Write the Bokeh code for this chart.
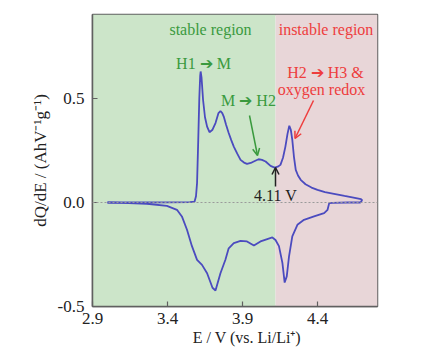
from bokeh.plotting import figure
from bokeh.models import Range1d, BoxAnnotation, Label, Arrow, OpenHead, Span, FixedTicker
from bokeh.embed import file_html
from bokeh.resources import INLINE

# ---------------- data ----------------
charge_E = [3.00, 3.20, 3.40, 3.55, 3.58, 3.59, 3.597, 3.605, 3.612, 3.618, 3.621, 3.627,
            3.637, 3.650, 3.664, 3.680, 3.700, 3.720, 3.740, 3.753, 3.765, 3.775, 3.790,
            3.808, 3.825, 3.842, 3.865, 3.887, 3.910, 3.930, 3.955, 3.975, 4.007, 4.030,
            4.054, 4.087, 4.114, 4.135, 4.153, 4.170, 4.186, 4.200, 4.212, 4.222, 4.232,
            4.243, 4.255, 4.270, 4.288, 4.320, 4.360, 4.400, 4.450, 4.510, 4.580, 4.640,
            4.690, 4.697, 4.688]
charge_dQ = [0.0, 0.0, 0.001, 0.002, 0.004, 0.03, 0.093, 0.30, 0.50, 0.61, 0.63, 0.60,
             0.494, 0.41, 0.365, 0.338, 0.35, 0.382, 0.43, 0.44, 0.43, 0.413, 0.375,
             0.334, 0.30, 0.269, 0.235, 0.205, 0.192, 0.186, 0.19, 0.197, 0.208, 0.205,
             0.197, 0.176, 0.168, 0.172, 0.181, 0.215, 0.269, 0.33, 0.369, 0.35, 0.301,
             0.22, 0.157, 0.13, 0.109, 0.088, 0.072, 0.061, 0.05, 0.042, 0.032, 0.024,
             0.016, 0.012, 0.0]

discharge_E = [4.688, 4.60, 4.50, 4.478, 4.467, 4.444, 4.377, 4.310, 4.266, 4.232, 4.210,
               4.195, 4.181, 4.166, 4.143, 4.120, 4.099, 4.065, 4.020, 3.976, 3.930,
               3.887, 3.842, 3.808, 3.786, 3.753, 3.720, 3.700, 3.664, 3.630, 3.597,
               3.563, 3.530, 3.496, 3.463, 3.396, 3.262, 3.100, 3.000]
discharge_dQ = [0.0, 0.0, -0.002, -0.003, -0.035, -0.051, -0.067, -0.083, -0.107, -0.163,
                -0.26, -0.355, -0.385, -0.29, -0.21, -0.18, -0.168, -0.176, -0.187,
                -0.207, -0.187, -0.184, -0.195, -0.22, -0.275, -0.34, -0.423, -0.41,
                -0.34, -0.30, -0.276, -0.21, -0.131, -0.067, -0.035, -0.016, -0.006,
                -0.002, 0.0]

x_ticks = [2.9, 3.4, 3.9, 4.4]
x_tick_labels = ["2.9", "3.4", "3.9", "4.4"]
y_ticks = [-0.5, 0.0, 0.5]
y_tick_labels = ["-0.5", "0.0", "0.5"]
boundary_E = 4.12
y_title = "dQ/dE / (AhV\u207b\u00b9g\u207b\u00b9)"
x_title = "E / V (vs. Li/Li\u207a)"

# ---------------- figure ----------------
FONT = "Liberation Serif"
TOTAL_W, TOTAL_H = 429, 356
FL, FR, FT, FB = 92, 377, 14, 306   # frame in canvas pixels

X0, X1 = 2.9, 4.8
Y0, Y1 = -0.5, 0.904
p = figure(width=TOTAL_W, height=TOTAL_H, output_backend="svg", toolbar_location=None,
           x_range=Range1d(X0, X1), y_range=Range1d(Y0, Y1),
           min_border_left=FL, min_border_right=TOTAL_W - FR,
           min_border_top=FT, min_border_bottom=TOTAL_H - FB)
p.background_fill_color = "white"
p.border_fill_color = "white"
p.grid.visible = False
p.outline_line_color = "#606060"
p.outline_line_width = 1.5

def dx(px):
    return X0 + (px - FL) * (X1 - X0) / (FR - FL)
def dy(py):
    return Y0 + (FB - py) * (Y1 - Y0) / (FB - FT)

p.add_layout(BoxAnnotation(left=X0, right=boundary_E, fill_color="#cce5c9", fill_alpha=1.0,
                           line_alpha=0, level="underlay"))
p.add_layout(BoxAnnotation(left=boundary_E, right=X1, fill_color="#e8d6d8", fill_alpha=1.0,
                           line_alpha=0, level="underlay"))
p.add_layout(Span(location=0, dimension="width", line_color="#9a9a9a", line_width=1,
                  line_dash="2 2"))

for ax in (p.xaxis[0], p.yaxis[0]):
    ax.axis_line_color = "#606060"
    ax.axis_line_width = 1.5
    ax.major_tick_in = 5
    ax.major_tick_out = 0
    ax.minor_tick_line_color = None
    ax.major_tick_line_color = "#606060"
    ax.major_tick_line_width = 1.2
    ax.major_label_text_font = FONT
    ax.major_label_text_font_size = "17px"
    ax.major_label_text_color = "#222222"
    ax.axis_label_text_font = FONT
    ax.axis_label_text_font_style = "normal"
    ax.axis_label_text_color = "#222222"
p.yaxis.major_label_standoff = 8
p.xaxis.major_label_standoff = 6
p.yaxis.axis_label = y_title
p.yaxis.axis_label_text_font_size = "17px"
p.yaxis.axis_label_standoff = 5
# leading non-breaking spaces nudge the centred x title to the right, as in the original
p.xaxis.axis_label = "\u00a0" * 6 + x_title
p.xaxis.axis_label_text_font_size = "16px"
p.xaxis.axis_label_standoff = 2
p.xaxis.ticker = FixedTicker(ticks=x_ticks)
p.yaxis.ticker = FixedTicker(ticks=y_ticks)
p.xaxis.major_label_overrides = {t: s for t, s in zip(x_ticks, x_tick_labels)}
p.yaxis.major_label_overrides = {t: s for t, s in zip(y_ticks, y_tick_labels)}

BLUE = "#4b4bbf"
p.line(charge_E, charge_dQ, line_color=BLUE, line_width=1.8)
p.line(discharge_E, discharge_dQ, line_color=BLUE, line_width=1.8)

GREEN = "#3a9a3e"
RED = "#ee3d3d"

def lab(text, px, py, color, size="16px"):
    p.add_layout(Label(x=dx(px), y=dy(py), text=text, text_color=color, text_font=FONT,
                       text_font_size=size, text_align="center", text_baseline="middle"))

ARW = "\u2794"
lab("stable region", 210, 29, GREEN)
lab("instable region", 325.5, 29, RED)
lab(f"H1 {ARW} M", 203, 63, GREEN)
lab(f"M {ARW} H2", 248, 100, GREEN)
lab(f"H2 {ARW} H3 &", 325, 72, RED)
lab("oxygen redox", 321, 89, RED)
lab("4.11 V", 275, 195, "#222222")

def arrow(x0, y0, x1, y1, color):
    p.add_layout(Arrow(end=OpenHead(size=7, line_color=color, line_width=1.5),
                       x_start=dx(x0), y_start=dy(y0), x_end=dx(x1), y_end=dy(y1),
                       line_color=color, line_width=1.5))
arrow(249, 115, 257, 155, GREEN)
arrow(313, 100, 294.5, 138, RED)
arrow(275, 186, 275, 167, "#222222")

open("out.html", "w").write(file_html(p, INLINE))
